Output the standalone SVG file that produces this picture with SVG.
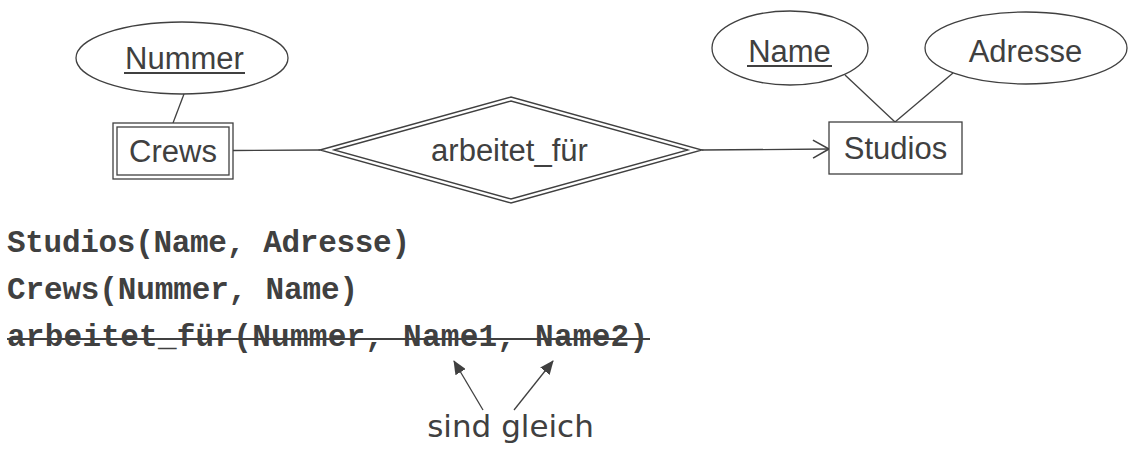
<svg xmlns="http://www.w3.org/2000/svg" width="1132" height="452" viewBox="0 0 1132 452">
<defs>
<style>
.s{fill:none;stroke:#404040;stroke-width:1.3}
.w{fill:#fff;stroke:#404040;stroke-width:1.3}
.t{font-family:"Liberation Sans",Arial,sans-serif;font-size:31px;fill:#404040;text-anchor:middle}
.m{font-family:"Liberation Mono","Courier New",monospace;font-size:31px;font-weight:bold;fill:#404040}
.u{stroke:#404040;stroke-width:2}
</style>
<marker id="open" viewBox="0 0 20 20" refX="18" refY="10" markerWidth="20" markerHeight="20" markerUnits="userSpaceOnUse" orient="auto">
<path d="M2,1 L18,10 L2,19" fill="none" stroke="#404040" stroke-width="1.6"/>
</marker>
<marker id="fill" viewBox="0 0 14 12" refX="13" refY="6" markerWidth="14" markerHeight="12" markerUnits="userSpaceOnUse" orient="auto">
<path d="M0,0 L14,6 L0,12 Z" fill="#404040"/>
</marker>
</defs>
<rect width="1132" height="452" fill="#fff"/>
<g id="connectors">
<line class="s" x1="184" y1="94" x2="173" y2="123"/>
<line class="s" x1="233" y1="150.5" x2="320" y2="150"/>
<line class="s" x1="702" y1="150" x2="829" y2="149" marker-end="url(#open)"/>
<line class="s" x1="845" y1="75" x2="895" y2="122"/>
<line class="s" x1="953" y1="73" x2="895" y2="122"/>
<line class="s" stroke-width="2" x1="483" y1="410" x2="454" y2="361" marker-end="url(#fill)"/>
<line class="s" stroke-width="2" x1="514" y1="410" x2="553" y2="361" marker-end="url(#fill)"/>
</g>
<g id="nummer">
<ellipse class="w" cx="182" cy="58" rx="106" ry="36"/>
<text class="t" x="184.5" y="69">Nummer</text>
<line class="u" x1="124" y1="73" x2="245" y2="73"/>
</g>
<g id="crews">
<rect class="w" x="113" y="123" width="120" height="56"/>
<rect class="s" x="117" y="127" width="112" height="48"/>
<text class="t" x="173" y="162">Crews</text>
</g>
<g id="arbeitet_fuer">
<polygon class="w" points="320,150 511,97 702,150 511,203"/>
<polygon class="s" points="334,150 511,101 688,150 511,199"/>
<text class="t" x="509.5" y="161">arbeitet_für</text>
</g>
<g id="studios">
<rect class="w" x="829" y="122" width="133" height="52"/>
<text class="t" x="895.5" y="159">Studios</text>
</g>
<g id="name">
<ellipse class="w" cx="790" cy="48" rx="78" ry="37"/>
<text class="t" x="789.5" y="62">Name</text>
<line class="u" x1="747" y1="66" x2="832" y2="66"/>
</g>
<g id="adresse">
<ellipse class="w" cx="1026" cy="48" rx="101" ry="36"/>
<text class="t" x="1025.5" y="62">Adresse</text>
</g>
<g id="schema">
<text class="m" x="7" y="252" textLength="403" lengthAdjust="spacing">Studios(Name, Adresse)</text>
<text class="m" x="7" y="299" textLength="351" lengthAdjust="spacing">Crews(Nummer, Name)</text>
<text class="m" x="7" y="346" textLength="641" lengthAdjust="spacing">arbeitet_für(Nummer, Name1, Name2)</text>
<line class="u" stroke-width="2.5" x1="7" y1="339" x2="650" y2="339"/>
<text x="510.5" y="437" font-family="DejaVu Sans,sans-serif" font-size="31" fill="#404040" text-anchor="middle">sind gleich</text>
</g>
</svg>
